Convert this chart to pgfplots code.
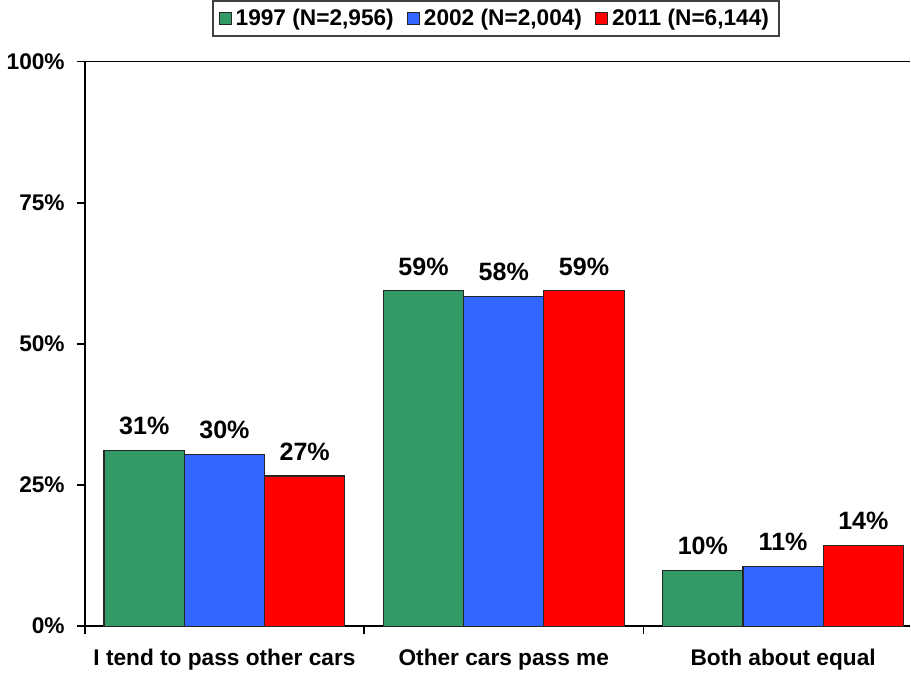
\documentclass[border=0pt]{standalone}
\usepackage{fontspec}
\setmainfont{Liberation Sans}
\usepackage{pgfplots}
\pgfplotsset{compat=1.18}
\definecolor{cg}{RGB}{51,153,102}
\definecolor{cb}{RGB}{51,102,255}
\definecolor{cr}{RGB}{255,0,0}
\begin{document}
\begin{tikzpicture}
\begin{axis}[
 scale only axis, width=411.5pt, height=281.5pt,
 ybar=0pt, bar width=40pt,
 xmin=-0.5, xmax=2.455, ymin=0, ymax=100,
 axis x line=bottom, axis y line=left,
 axis line style={-, black, line width=0.8pt},
 tick align=outside, major tick length=4pt,
 tick style={black, line width=0.8pt},
 ytick={0,25,50,75}, yticklabel={\pgfmathprintnumber{\tick}\%},
 yticklabel style={xshift=-2.5pt},
 extra y ticks={100}, extra y tick labels={100\%},
 extra y tick style={grid=major, major grid style={black, line width=0.8pt}},
 xtick={-0.5,0.5,1.5}, xticklabels={},
 extra x ticks={0,1,2},
 extra x tick labels={I tend to pass other cars, Other cars pass me, Both about equal},
 extra x tick style={major tick length=0pt, xticklabel style={yshift=-8pt}},
 /pgf/number format/assume math mode=true,
 ticklabel style={font=\bfseries\fontsize{11.3}{13}\selectfont},
 nodes near coords={\pgfmathprintnumber[fixed,precision=0]{\pgfplotspointmeta}\%},
 nodes near coords style={font=\bfseries\fontsize{12.5}{14}\selectfont, yshift=4pt},
 legend style={at={(0.498,1)}, anchor=south, yshift=12pt, legend columns=-1,
   draw=black!75, line width=1pt, font=\bfseries\fontsize{11.3}{13}\selectfont,
   /tikz/every even column/.append style={column sep=4.5pt}},
 legend image code/.code={\draw[#1, line width=0.5pt] (0pt,-3pt) rectangle (6pt,3pt);},
 every axis plot/.append style={draw=black!85, line width=0.6pt},
 clip=false
]
\addplot[fill=cg] coordinates {(0,31.1) (1,59.4) (2,9.9)};
\addplot[fill=cb] coordinates {(0,30.4) (1,58.4) (2,10.6)};
\addplot[fill=cr] coordinates {(0,26.6) (1,59.4) (2,14.3)};
\legend{1997 (N=2{,}956), 2002 (N=2{,}004), 2011 (N=6{,}144)}
\end{axis}
\end{tikzpicture}
\end{document}
